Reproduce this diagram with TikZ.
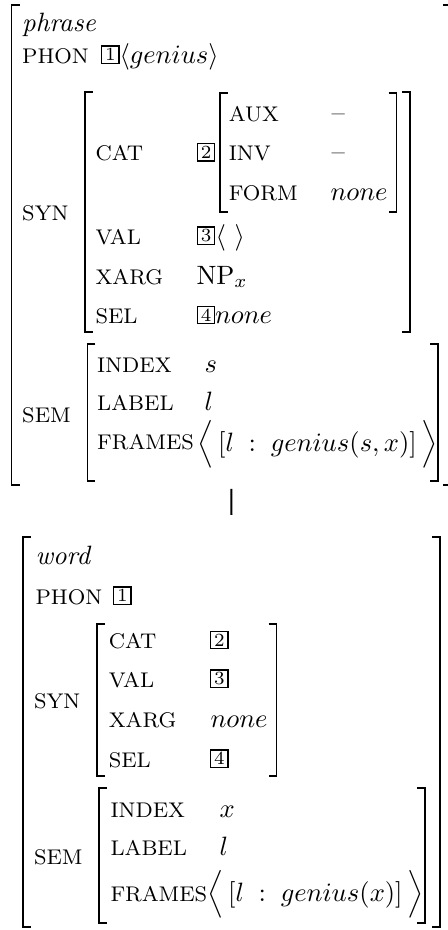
\documentclass[tikz,border=0pt]{standalone}
\usetikzlibrary{fit}
\tikzset{>=latex}

\begin{document}
\begin{tikzpicture}[
    x=0.377pt, y=-0.377pt,
    fs/.style={inner sep=0pt, outer sep=0pt},
    bracket/.style={line width=0.5pt},
    attr/.style={anchor=base west, inner sep=0pt, font=\fontsize{8}{9.6}\selectfont},
    val/.style={anchor=base west, inner sep=0pt},
    tagbox/.style={draw, line width=0.55pt, anchor=south west, minimum size=6.5pt, inner sep=0pt, font=\scriptsize},
    edge/.style={line width=0.8pt, shorten <=1.5pt, shorten >=8.3pt}
]
    \useasboundingbox (0,0) rectangle (448,930);

    % Matrices
    \node (Phrase) [fs, fit={(11.7,5) (451,485)}] {};
    \node (PhraseSyn) [fs, fit={(85,92) (410,332)}] {};
    \node (PhraseCat) [fs, fit={(220,93) (396.5,212)}] {};
    \node (PhraseSem) [fs, fit={(87.5,344) (438,481)}] {};
    \node (Word) [fs, fit={(23,537) (440,927)}] {};
    \node (WordSyn) [fs, fit={(97,624) (276.5,776)}] {};
    \node (WordSem) [fs, fit={(99,788) (425,923)}] {};

    \foreach \m in {Phrase, PhraseSyn, PhraseCat, PhraseSem, Word, WordSyn, WordSem} {
        \draw[bracket] ([xshift=3pt]\m.north west) -- (\m.north west) -- (\m.south west) -- ([xshift=3pt]\m.south west);
        \draw[bracket] ([xshift=-3pt]\m.north east) -- (\m.north east) -- (\m.south east) -- ([xshift=-3pt]\m.south east);
    }

    % Phrase
    \node (PhraseType) [val] at (21.7,31.7) {\textit{phrase}};
    \node (PhrasePhon) [attr] at (21.7,63) {PHON};
    \node (PhrasePhonTag) [tagbox] at (101,64) {1};
    \node (PhrasePhonVal) [val] at (119,63) {$\langle genius\rangle$};
    \node (PhraseSynLab) [attr] at (21.7,220) {SYN};
    \node (PhraseCatLab) [attr] at (95,160.7) {CAT};
    \node (PhraseCatTag) [tagbox] at (196.7,161.7) {2};
    \node (PhraseAux) [attr] at (228.3,121.4) {AUX};
    \node (PhraseAuxVal) [val] at (331,121.4) {--};
    \node (PhraseInv) [attr] at (228.3,160.7) {INV};
    \node (PhraseInvVal) [val] at (331,160.7) {--};
    \node (PhraseForm) [attr] at (228.3,200) {FORM};
    \node (PhraseFormVal) [val] at (330,200) {$none$};
    \node (PhraseVal) [attr] at (95,244) {VAL};
    \node (PhraseValTag) [tagbox] at (196.7,245) {3};
    \node (PhraseValVal) [val] at (215,244) {$\langle\ \rangle$};
    \node (PhraseXarg) [attr] at (95,284) {XARG};
    \node (PhraseXargVal) [val] at (196,284) {$\mathrm{NP}_x$};
    \node (PhraseSel) [attr] at (95,323.3) {SEL};
    \node (PhraseSelTag) [tagbox] at (196.7,324.3) {4};
    \node (PhraseSelVal) [val] at (214.5,323.3) {$none$};
    \node (PhraseSemLab) [attr] at (21.7,422.7) {SEM};
    \node (PhraseIndex) [attr] at (96.7,372.3) {INDEX};
    \node (PhraseIndexVal) [val] at (204,372.3) {$s$};
    \node (PhraseLabel) [attr] at (96.7,410) {LABEL};
    \node (PhraseLabelVal) [val] at (204,410) {$l$};
    \node (PhraseFrames) [attr] at (96.7,449) {FRAMES};
    \node (PhraseFramesVal) [val] at (197,451) {$\Big\langle\,[l \;:\; genius(s,x)]\,\Big\rangle$};

    % Word
    \node (WordType) [val] at (35,564) {\textit{word}};
    \node (WordPhon) [attr] at (35,604) {PHON};
    \node (WordPhonTag) [tagbox] at (113,605) {1};
    \node (WordSynLab) [attr] at (33.5,708) {SYN};
    \node (WordCat) [attr] at (108.3,648.3) {CAT};
    \node (WordCatTag) [tagbox] at (210,649.3) {2};
    \node (WordVal) [attr] at (108.3,687) {VAL};
    \node (WordValTag) [tagbox] at (210,688) {3};
    \node (WordXarg) [attr] at (108.3,727) {XARG};
    \node (WordXargVal) [val] at (210,727) {$none$};
    \node (WordSel) [attr] at (108.3,767) {SEL};
    \node (WordSelTag) [tagbox] at (210,768) {4};
    \node (WordSemLab) [attr] at (33.5,864) {SEM};
    \node (WordIndex) [attr] at (110,817) {INDEX};
    \node (WordIndexVal) [val] at (219,817) {$x$};
    \node (WordLabel) [attr] at (110,855) {LABEL};
    \node (WordLabelVal) [val] at (219,855) {$l$};
    \node (WordFrames) [attr] at (110,901) {FRAMES};
    \node (WordFramesVal) [val] at (207,901) {$\Big\langle\,[l \;:\; genius(x)]\,\Big\rangle$};

    % Edge
    \draw[edge] (Phrase.south) -- (Word.north);
\end{tikzpicture}
\end{document}
